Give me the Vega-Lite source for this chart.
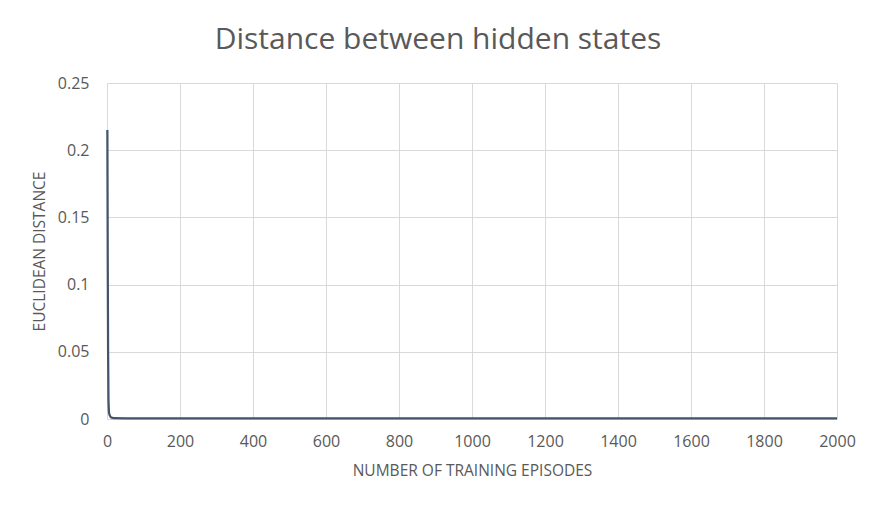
{
  "$schema": "https://vega.github.io/schema/vega-lite/v6.json",
  "width": 730,
  "height": 336,
  "autosize": {"type": "none"},
  "padding": {"left": 107, "top": 83, "right": 42, "bottom": 91},
  "background": "white",
  "title": {
    "text": "Distance between hidden states",
    "font": "Open Sans",
    "fontSize": 30,
    "fontWeight": "normal",
    "color": "#595959",
    "anchor": "middle",
    "dx": -34,
    "offset": 20
  },
  "config": {
    "view": {"stroke": null},
    "axis": {
      "labelFont": "Open Sans",
      "titleFont": "Open Sans",
      "labelColor": "#595959",
      "titleColor": "#595959",
      "labelFontSize": 16,
      "titleFontSize": 15.5,
      "titleFontWeight": "normal",
      "gridColor": "#d9d9d9",
      "gridWidth": 1,
      "ticks": false,
      "domain": false,
      "labelFlush": false
    }
  },
  "data": {
    "values": [
      {"episode": 1, "distance": 0.215},
      {"episode": 2, "distance": 0.12},
      {"episode": 3, "distance": 0.05},
      {"episode": 4, "distance": 0.015},
      {"episode": 5, "distance": 0.007},
      {"episode": 6, "distance": 0.004},
      {"episode": 8, "distance": 0.0025},
      {"episode": 10, "distance": 0.0015},
      {"episode": 15, "distance": 0.0008},
      {"episode": 20, "distance": 0.0006},
      {"episode": 50, "distance": 0.0005},
      {"episode": 100, "distance": 0.0005},
      {"episode": 200, "distance": 0.0005},
      {"episode": 300, "distance": 0.0004},
      {"episode": 400, "distance": 0.0004},
      {"episode": 500, "distance": 0.0004},
      {"episode": 600, "distance": 0.0004},
      {"episode": 700, "distance": 0.0004},
      {"episode": 800, "distance": 0.0004},
      {"episode": 900, "distance": 0.0004},
      {"episode": 1000, "distance": 0.0004},
      {"episode": 1100, "distance": 0.0004},
      {"episode": 1200, "distance": 0.0004},
      {"episode": 1300, "distance": 0.0004},
      {"episode": 1400, "distance": 0.0004},
      {"episode": 1500, "distance": 0.0004},
      {"episode": 1600, "distance": 0.0004},
      {"episode": 1700, "distance": 0.0004},
      {"episode": 1800, "distance": 0.0004},
      {"episode": 1900, "distance": 0.0004},
      {"episode": 2000, "distance": 0.0004}
    ]
  },
  "mark": {"type": "line", "color": "#44546A", "strokeWidth": 2.25, "interpolate": "monotone"},
  "encoding": {
    "x": {
      "field": "episode",
      "type": "quantitative",
      "scale": {"domain": [0, 2000], "nice": false},
      "axis": {
        "values": [0, 200, 400, 600, 800, 1000, 1200, 1400, 1600, 1800, 2000],
        "title": "NUMBER OF TRAINING EPISODES",
        "labelPadding": 14,
        "titlePadding": 14,
        "format": "d"
      }
    },
    "y": {
      "field": "distance",
      "type": "quantitative",
      "scale": {"domain": [0, 0.25], "nice": false},
      "axis": {
        "values": [0, 0.05, 0.1, 0.15, 0.2, 0.25],
        "title": "EUCLIDEAN DISTANCE",
        "labelPadding": 18,
        "titlePadding": 10,
        "labelExpr": "datum.value === 0 ? '0' : format(datum.value, '.2~f')"
      }
    }
  }
}
